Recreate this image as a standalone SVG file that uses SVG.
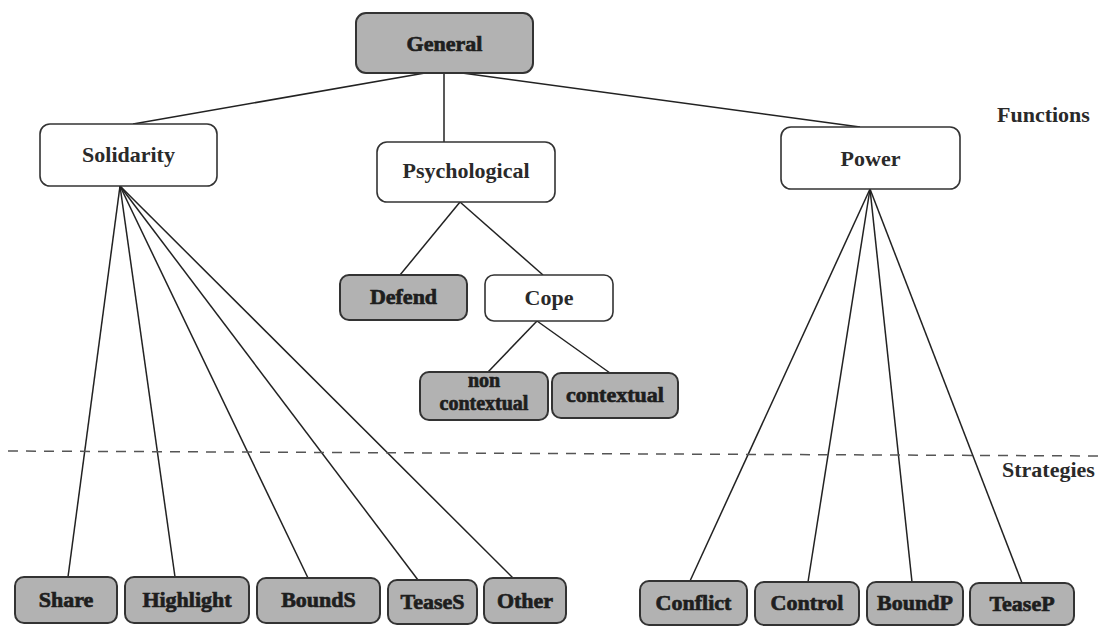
<svg xmlns="http://www.w3.org/2000/svg" width="1101" height="626" viewBox="0 0 1101 626">
<style>
.w{fill:#fff;stroke:#333;stroke-width:1.6}
.g{fill:#b2b2b2;stroke:#333;stroke-width:2}
.t{font-family:"Liberation Serif","Times New Roman",serif;font-weight:bold;font-size:22px;text-anchor:middle;fill:#2a2a2a}
.tg{font-family:"Liberation Serif","Times New Roman",serif;font-weight:bold;font-size:22px;text-anchor:middle;fill:#1e1e1e;stroke:#1e1e1e;stroke-width:0.7}
.ts{font-size:20px}
.lab{font-family:"Liberation Serif","Times New Roman",serif;font-weight:bold;font-size:22px;fill:#2a2a2a}
.c line{stroke:#222;stroke-width:1.5}
</style>
<rect width="1101" height="626" fill="#fff"/>
<g class="c" id="connectors">
<line x1="425" y1="73" x2="133" y2="124"/>
<line x1="444" y1="73" x2="444" y2="142"/>
<line x1="462" y1="73" x2="860" y2="127"/>
<line x1="120" y1="186" x2="68" y2="577"/>
<line x1="120" y1="186" x2="175" y2="577"/>
<line x1="120" y1="186" x2="308" y2="578"/>
<line x1="120" y1="186" x2="418" y2="580"/>
<line x1="120" y1="186" x2="513" y2="578"/>
<line x1="870" y1="189" x2="690" y2="581"/>
<line x1="870" y1="189" x2="808" y2="582"/>
<line x1="870" y1="189" x2="912" y2="582"/>
<line x1="870" y1="189" x2="1022" y2="583"/>
<line x1="460" y1="202" x2="400" y2="275"/>
<line x1="460" y1="202" x2="543" y2="275"/>
<line x1="537" y1="321" x2="488" y2="372"/>
<line x1="537" y1="321" x2="610" y2="373"/>
</g>
<line x1="8" y1="451" x2="1101" y2="456" stroke="#555" stroke-width="1.5" stroke-dasharray="10 8"/>
<text class="lab" x="997" y="122">Functions</text>
<text class="lab" x="1002" y="477">Strategies</text>
<g id="general"><rect class="g" x="356" y="13" width="177" height="60" rx="10"/><text class="tg" x="444.5" y="51">General</text></g>
<g id="solidarity"><rect class="w" x="40" y="124" width="177" height="62" rx="10"/><text class="t" x="128.5" y="162">Solidarity</text></g>
<g id="psychological"><rect class="w" x="377" y="142" width="178" height="60" rx="10"/><text class="t" x="466" y="178">Psychological</text></g>
<g id="power"><rect class="w" x="781" y="127" width="179" height="62" rx="10"/><text class="t" x="870.5" y="166">Power</text></g>
<g id="defend"><rect class="g" x="340" y="275" width="127" height="45" rx="9"/><text class="tg" x="403.5" y="304">Defend</text></g>
<g id="cope"><rect class="w" x="485" y="275" width="128" height="46" rx="9"/><text class="t" x="549" y="305">Cope</text></g>
<g id="noncontextual"><rect class="g" x="420" y="372" width="128" height="48" rx="9"/><text class="tg ts" x="484" y="387">non</text><text class="tg ts" x="484" y="410">contextual</text></g>
<g id="contextual"><rect class="g" x="552" y="373" width="126" height="45" rx="9"/><text class="tg" x="615" y="402">contextual</text></g>
<g id="share"><rect class="g" x="15" y="577" width="102" height="46" rx="9"/><text class="tg" x="66" y="607">Share</text></g>
<g id="highlight"><rect class="g" x="125" y="577" width="124" height="46" rx="9"/><text class="tg" x="187" y="607">Highlight</text></g>
<g id="bounds"><rect class="g" x="257" y="578" width="123" height="45" rx="9"/><text class="tg" x="318.5" y="607">BoundS</text></g>
<g id="teases"><rect class="g" x="388" y="580" width="89" height="44" rx="9"/><text class="tg" x="432.5" y="609">TeaseS</text></g>
<g id="other"><rect class="g" x="484" y="578" width="82" height="45" rx="9"/><text class="tg" x="525" y="608">Other</text></g>
<g id="conflict"><rect class="g" x="640" y="581" width="107" height="44" rx="9"/><text class="tg" x="693.5" y="610">Conflict</text></g>
<g id="control"><rect class="g" x="755" y="582" width="104" height="43" rx="9"/><text class="tg" x="807" y="610">Control</text></g>
<g id="boundp"><rect class="g" x="867" y="582" width="96" height="43" rx="9"/><text class="tg" x="915" y="610">BoundP</text></g>
<g id="teasep"><rect class="g" x="970" y="583" width="104" height="42" rx="9"/><text class="tg" x="1022" y="611">TeaseP</text></g>
</svg>
